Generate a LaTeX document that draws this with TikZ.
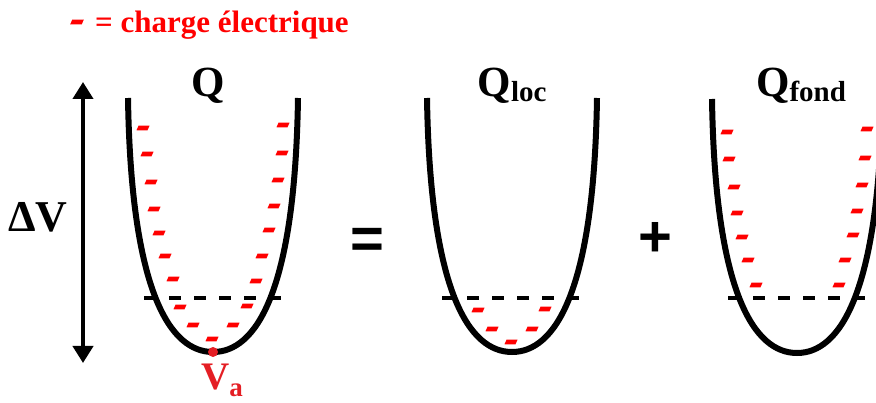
\documentclass[tikz,border=0pt]{standalone}
\usepackage{fontspec}
\setmainfont{Liberation Serif}
\newfontfamily\sansbold{Liberation Sans}
\usetikzlibrary{arrows.meta}
\definecolor{chargered}{RGB}{255,0,0}
\definecolor{vared}{RGB}{228,30,36}
\begin{document}
\begin{tikzpicture}[x=1pt,y=-1pt,
  charge/.pic={\fill[chargered] (-4.5,-2.3) -- (6.5,-2.3) -- (4.5,2.3) -- (-6.5,2.3) -- cycle;},
  bowl/.pic={\draw[line width=6pt] (-85,-254) .. controls (-82,-60) and (-43,0) .. (0,0) .. controls (43,0) and (82,-60) .. (85,-254);},
  leveldash/.style={line width=3.5pt, dash pattern=on 12pt off 13pt},
  lbl/.style={font=\bfseries\fontsize{43}{43}\selectfont, anchor=base, inner sep=0pt},
  op/.style={font=\sansbold\bfseries\fontsize{58}{58}\selectfont, anchor=base, inner sep=0pt},
]
\useasboundingbox (0,0) rectangle (876,403);
\clip (0,0) rectangle (876,403);

% legend
\pic[scale=1.05] at (77,22) {charge};
\node[anchor=base west, font=\bfseries\fontsize{31}{31}\selectfont, text=chargered, inner sep=0pt] (legend) at (95,33) {= charge électrique};

% Delta V arrow
\coordinate (atop) at (83,82);
\coordinate (abot) at (83,363);
\draw[line width=4pt, {Triangle[width=20pt,length=17pt]}-{Triangle[width=20pt,length=17pt]}] (atop) -- (abot);
\node[font=\bfseries\fontsize{44}{44}\selectfont, anchor=base, inner sep=0pt] (dv) at (38,232) {ΔV};

% bowls
\pic at (213,352) {bowl};
\pic at (512,352) {bowl};
\pic at (797,353) {bowl};

% levels
\draw[leveldash] (144,298) -- (284,298);
\draw[leveldash] (442,298) -- (582,298);
\draw[leveldash] (728,298) -- (868,298);

% charges Q
\foreach \x/\y in {143/128,147/154,151/182,154/209,159/233,165/256,173/279,180/307,193/325,212/339,
                   233/325,247/306,256/281,262/256,269/230,274/206,278/180,282/153,283/125}
  \pic at (\x,\y) {charge};
% charges Q_loc
\foreach \x/\y in {478/310,492/329,511/342,532/329,545/309}
  \pic at (\x,\y) {charge};
% charges Q_fond
\foreach \x/\y in {727/132,729/159,734/187,737/213,742/237,748/260,756/285,
                   867/129,865/158,862/185,857/211,853/235,845/260,839/285}
  \pic at (\x,\y) {charge};

% V_a
\fill[vared] (213,352) circle[radius=5pt];
\node[font=\bfseries\fontsize{39}{39}\selectfont, text=vared, anchor=base, inner sep=0pt] (va) at (222,389) {V\raisebox{-7pt}{\fontsize{27}{27}\selectfont a}};

% labels
\node[lbl] (qone) at (208,97) {Q};
\node[lbl] (qloc) at (512,97) {Q\raisebox{-5pt}{\fontsize{29}{29}\selectfont loc}};
\node[lbl] (qfond) at (801,97) {Q\raisebox{-5pt}{\fontsize{29}{29}\selectfont fond}};

% operators
\node[op] (eq) at (367,259) {=};
\node[op] (plus) at (655,257) {+};
\end{tikzpicture}
\end{document}
